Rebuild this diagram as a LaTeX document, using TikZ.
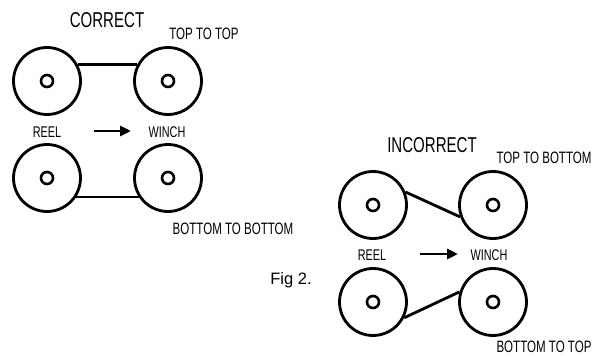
\documentclass[tikz,border=0pt]{standalone}
\usepackage{fontspec}
\usetikzlibrary{arrows.meta}
\newfontfamily\narrowsf[FakeStretch=0.70]{Liberation Sans}
\newfontfamily\figsf{Liberation Sans}

\begin{document}
\begin{tikzpicture}[x=1pt, y=-1pt,
		drum/.style={circle, draw, line width=2.8pt, minimum size=67pt, inner sep=0pt},
		hub/.style={line width=2.6pt},
		belt/.style={line width=2.8pt},
		flow/.style={line width=2.8pt, -{Triangle[length=11pt, width=10pt]}},
		title/.style={font=\narrowsf\fontsize{21.5}{21.5}\selectfont},
		tag/.style={font=\narrowsf\fontsize{16.5}{16.5}\selectfont},
		side/.style={font=\narrowsf\fontsize{15.5}{15.5}\selectfont}]
		%%%%% START %%%%%
		
		\useasboundingbox (0, 0) rectangle (598, 356);
		
		% correct
		\node[drum] (cr1) at (47, 81) {};
		\node[drum] (cw1) at (168, 81) {};
		\node[drum] (cr2) at (47, 178) {};
		\node[drum] (cw2) at (168, 178) {};
		
		% incorrect
		\node[drum] (ir1) at (373, 205) {};
		\node[drum] (iw1) at (493, 205) {};
		\node[drum] (ir2) at (373, 302) {};
		\node[drum] (iw2) at (493, 302) {};
		
		\foreach \d in {cr1, cw1, cr2, cw2, ir1, iw1, ir2, iw2}
			\draw[hub] (\d) circle (6);
		
		\draw[belt] (cr1.28) -- (cw1.152);
		\draw[belt] (cr2.-33) -- (cw2.213);
		\draw[belt] (ir1.22) -- (iw1.200);
		\draw[belt] (ir2.-27) -- (iw2.163);
		
		\node[title] (ct) at (107, 20) {CORRECT};
		\node[tag] (ctt) at (204, 34) {TOP TO TOP};
		\node[side] (cl1) at (47, 132) {REEL};
		\node[side] (cl2) at (167, 132) {WINCH};
		\node[tag] (cbb) at (233, 229) {BOTTOM TO BOTTOM};
		\coordinate (ca1) at (94, 131);
		\coordinate (ca2) at (131, 131);
		\draw[flow] (ca1) -- (ca2);
		
		\node[title] (it) at (432, 145) {INCORRECT};
		\node[tag] (itb) at (544, 158) {TOP TO BOTTOM};
		\node[side] (il1) at (372, 255) {REEL};
		\node[side] (il2) at (489, 255) {WINCH};
		\node[tag] (ibt) at (544, 347) {BOTTOM TO TOP};
		\coordinate (ia1) at (420, 254);
		\coordinate (ia2) at (458, 254);
		\draw[flow] (ia1) -- (ia2);
		
		\node[anchor=base, font=\figsf\fontsize{16.5}{16.5}\selectfont] (fig) at (291, 284) {Fig 2.};
		
		%%%%% END %%%%%
	\end{tikzpicture}
\end{document}
